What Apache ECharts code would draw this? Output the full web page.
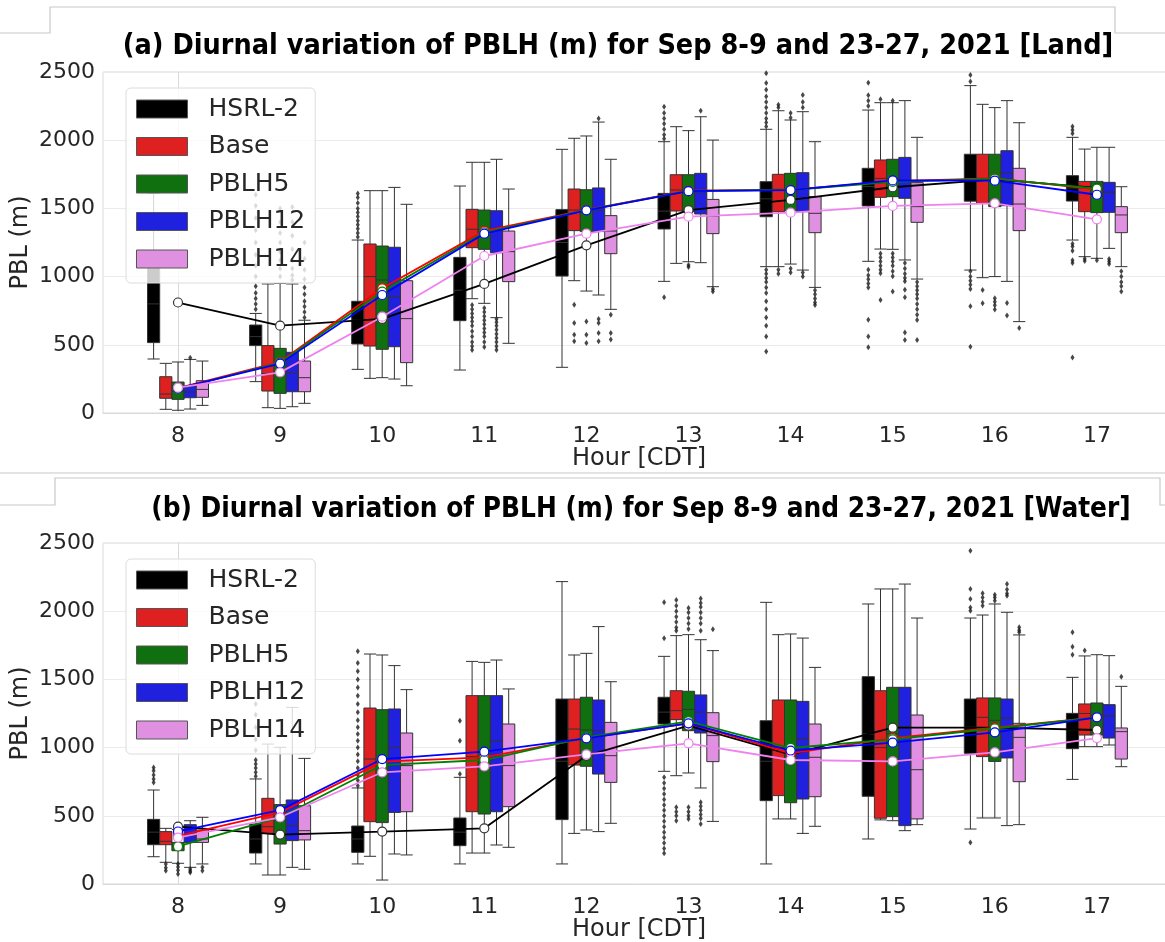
<!DOCTYPE html>
<html><head><meta charset="utf-8">
<script src="https://cdn.jsdelivr.net/npm/echarts@6/dist/echarts.min.js"></script>
<style>html,body{margin:0;padding:0;background:#fff}#c{width:1165px;height:942px}</style>
</head><body><div id="c"></div>
<script>
const hours = ['8','9','10','11','12','13','14','15','16','17'];
const models = ['HSRL-2','Base','PBLH5','PBLH12','PBLH14'];
const yTicks = [0, 500, 1000, 1500, 2000, 2500];
const titleLand = '(a) Diurnal variation of PBLH (m) for Sep 8-9 and 23-27, 2021 [Land]';
const titleWater = '(b) Diurnal variation of PBLH (m) for Sep 8-9 and 23-27, 2021 [Water]';

// ---- Land: boxes [min, Q1, median, Q3, max] per hour ----
const landBoxHSRL2 = [[396,516,800,1061,1610],[230,494,560,645,730],[320,506,680,819,1268],[315,677,900,1141,1664],[335,1004,1250,1491,1933],[965,1349,1480,1610,1989],[1073,1439,1570,1696,2080],[1112,1518,1660,1794,2221],[1048,1553,1720,1897,2400],[1268,1554,1650,1740,2021]];
const landBoxBase   = [[27,108,139,266,364],[39,161,290,494,946],[254,491,1000,1239,1630],[838,1212,1347,1493,1838],[970,1337,1488,1642,2014],[1097,1481,1635,1747,2099],[1073,1476,1640,1750,2216],[1202,1581,1720,1855,2275],[992,1537,1720,1897,2263],[1146,1476,1650,1698,1935]];
const landBoxPBLH5  = [[20,100,160,227,374],[34,144,291,474,950],[259,467,975,1224,1630],[804,1200,1345,1488,1838],[894,1330,1488,1637,2031],[1109,1476,1630,1747,2070],[1092,1483,1640,1757,2148],[1200,1586,1720,1860,2275],[1000,1513,1720,1897,2239],[1134,1469,1640,1698,1948]];
const landBoxPBLH12 = [[29,112,154,198,393],[46,156,290,445,946],[249,486,848,1215,1654],[699,1175,1342,1483,1860],[865,1330,1488,1650,2133],[1102,1459,1620,1757,2172],[1048,1476,1640,1762,2209],[1122,1574,1700,1874,2290],[965,1520,1757,1923,2290],[1207,1471,1618,1691,1948]];
const landBoxPBLH14 = [[56,115,173,237,381],[71,156,259,381,680],[200,369,692,970,1530],[511,963,1183,1334,1642],[760,1168,1334,1447,1860],[926,1315,1444,1566,2001],[921,1322,1464,1586,1989],[982,1398,1513,1689,2021],[670,1337,1532,1794,2128],[1073,1322,1452,1513,1659]];

// ---- Land: means per hour ----
const landMeanHSRL2 = [810, 640, 690, 946, 1229, 1488, 1562, 1655, 1713, 1650];
const landMeanBase   = [182, 375, 914, 1335, 1490, 1630, 1636, 1700, 1720, 1640];
const landMeanPBLH5  = [176, 370, 890, 1325, 1488, 1628, 1635, 1695, 1718, 1645];
const landMeanPBLH12 = [180, 362, 865, 1315, 1486, 1626, 1634, 1705, 1703, 1600];
const landMeanPBLH14 = [186, 298, 706, 1151, 1315, 1439, 1469, 1518, 1537, 1420];

// ---- Land: outliers [hourIndex, value] ----
const landOutHSRL2 = [[1,760],[1,800],[1,840],[1,880],[1,930],[1,1000],[1,1080],[1,1160],[1,1250],[1,1340],[1,1430],[1,1520],[1,1600],
 [2,1290],[2,1320],[2,1350],[2,1380],[2,1410],[2,1440],[2,1470],[2,1500],[2,1540],[2,1580],[2,1610],
 [5,2010],[5,2040],[5,2080],[5,2120],[5,2160],[5,2200],[5,2246],[5,848],
 [6,2100],[6,2130],[6,2160],[6,2200],[6,2240],[6,2280],[6,2320],[6,2370],[6,2420],[6,2490],
 [6,1050],[6,1020],[6,990],[6,960],[6,920],[6,880],[6,820],[6,760],[6,700],[6,640],[6,560],[6,450],
 [7,2250],[7,2290],[7,2330],[7,2422],[7,1050],[7,1010],[7,980],[7,950],[7,920],[7,684],[7,560],[7,482],
 [8,2430],[8,2478],[8,1040],[8,1000],[8,970],[8,940],[8,910],[8,782],[8,486],
 [9,2050],[9,2075],[9,2100],[9,1240],[9,1220],[9,1190],[9,1120],[9,1100],[9,406]];
const landOutBase = [[3,792],[3,760],[3,730],[3,700],[3,670],[3,640],[3,600],[3,560],[3,520],[3,490],[3,462],
 [4,794],[4,660],[4,574],[4,526],
 [6,2240],[6,2260],[6,1050],[6,1020],
 [7,2300],[7,1170],[7,1140],[7,1110],[7,1080],[7,1050],[7,1024],[7,828],
 [8,902],[8,804],
 [9,1130],[9,1115]];
const landOutPBLH5 = [[1,1000],[1,1060],[1,1120],[1,1180],[1,1250],[1,1320],[1,1400],[1,1500],
 [3,770],[3,740],[3,710],[3,680],[3,650],[3,620],[3,590],[3,560],[3,520],[3,484],
 [4,670],[4,574],[4,513],
 [5,1085],[5,1070],
 [6,2165],[6,2200],[6,1060],[6,1030],
 [7,2290],[7,1170],[7,1140],[7,1110],[7,1080],[7,1040],[7,1002],[7,890],
 [8,841],[8,815],[8,790],[8,758],
 [9,1120]];
const landOutPBLH12 = [[0,405],
 [1,975],[1,1010],[1,1060],[1,1120],[1,1200],[1,1300],[1,1400],[1,1510],
 [3,690],[3,665],[3,640],[3,610],[3,580],[3,550],[3,520],[3,490],[3,462],
 [4,2160],[4,689],[4,660],[4,587],[4,526],
 [5,2216],
 [6,2331],[6,2280],[6,2240],[6,1030],[6,1000],
 [7,1100],[7,1060],[7,1020],[7,990],[7,965],[7,904],[7,848],[7,591],[7,535],
 [8,806],[8,714],
 [9,1129],[9,1110],[9,1092]];
const landOutPBLH14 = [[1,700],[1,740],[1,780],[1,820],[1,870],[1,920],[1,980],[1,1050],[1,1130],[1,1250],
 [4,721],[4,587],[4,538],
 [5,910],[5,890],
 [6,900],[6,870],[6,840],[6,810],[6,792],
 [7,960],[7,930],[7,900],[7,870],[7,840],[7,800],[7,760],[7,720],[7,682],[7,535],
 [8,623],
 [9,1040],[9,1000],[9,960],[9,930],[9,890]];

// ---- Water: boxes [min, Q1, median, Q3, max] ----
const waterBoxHSRL2 = [[200,288,380,474,689],[147,227,330,440,770],[147,232,330,425,704],[147,281,380,484,782],[147,472,900,1356,2217],[826,1173,1260,1369,1669],[147,611,900,1197,2065],[330,643,1100,1520,2053],[403,958,1150,1356,1950],[767,992,1130,1251,1515]];
const waterBoxBase   = [[159,288,313,384,408],[66,371,420,628,1026],[203,457,916,1290,1686],[227,530,934,1381,1632],[371,872,1136,1356,1679],[794,1205,1271,1417,1821],[477,648,1000,1349,1828],[470,482,1000,1417,2163],[484,934,1222,1364,1972],[1007,1092,1250,1320,1672]];
const waterBoxPBLH5  = [[152,244,280,305,400],[66,293,469,582,1002],[29,450,885,1278,1679],[227,513,920,1381,1625],[396,863,1129,1369,1691],[814,1124,1280,1413,1828],[477,596,980,1349,1833],[464,494,1100,1442,2163],[484,899,1200,1364,2053],[1007,1092,1240,1327,1681]];
const waterBoxPBLH12 = [[122,305,354,435,464],[122,318,428,616,1295],[220,525,1002,1283,1601],[286,530,1046,1381,1642],[384,806,1124,1349,1887],[704,1107,1259,1386,1791],[371,623,1063,1339,1803],[391,428,1153,1442,2199],[428,924,1215,1356,1992],[1019,1070,1232,1315,1674]];
const waterBoxPBLH14 = [[147,305,330,396,489],[108,323,391,574,921],[213,530,868,1107,1425],[269,567,868,1173,1430],[445,745,941,1185,1483],[459,897,1088,1256,1711],[423,640,929,1173,1588],[435,477,838,1239,1950],[435,750,1075,1178,1826],[860,916,1117,1144,1449]];

// ---- Water: means ----
const waterMeanHSRL2 = [420, 362, 384, 408, 940, 1161, 948, 1146, 1146, 1129];
const waterMeanBase   = [352, 525, 897, 929, 1070, 1178, 958, 1070, 1146, 1222];
const waterMeanPBLH5  = [275, 489, 872, 909, 1075, 1193, 997, 1060, 1140, 1222];
const waterMeanPBLH12 = [385, 542, 916, 970, 1068, 1178, 978, 1036, 1112, 1222];
const waterMeanPBLH14 = [340, 489, 819, 863, 950, 1031, 909, 899, 965, 1070];

// ---- Water: outliers ----
const waterOutHSRL2 = [[0,745],[0,770],[0,800],[0,830],[0,855],
 [1,790],[1,820],[1,850],[1,880],[1,910],[1,980],[1,1060],[1,1150],[1,1240],[1,1320],
 [2,720],[2,760],[2,800],[2,850],[2,900],[2,950],[2,1000],[2,1050],[2,1100],[2,1150],[2,1200],[2,1260],[2,1320],[2,1380],[2,1440],[2,1500],[2,1560],[2,1620],[2,1706],
 [3,806],[3,1051],[3,1197],
 [5,2065],[5,1801],[5,782],[5,740],[5,700],[5,660],[5,620],[5,580],[5,540],[5,500],[5,460],[5,420],[5,380],[5,340],[5,300],[5,260],[5,225],
 [8,2444],[8,2163],[8,2089],[8,2028],[8,2004],[8,305],
 [9,1845],[9,1740],[9,1680]];
const waterOutBase = [[0,147],[0,120],[0,98],
 [5,2082],[5,2040],[5,2000],[5,1960],[5,1920],[5,1880],[5,1857],[5,562],[5,530],[5,500],[5,464],
 [8,2131],[8,2100],[8,2070],[8,2040],
 [9,1711]];
const waterOutPBLH5 = [[0,147],[0,125],[0,100],[0,73],
 [5,2023],[5,1990],[5,1950],[5,1910],[5,1870],[5,562],[5,530],[5,500],[5,477],
 [8,2121],[8,2100],[8,2077]];
const waterOutPBLH12 = [[0,110],[0,95],[0,85],
 [5,2094],[5,2060],[5,2030],[5,1990],[5,1950],[5,1910],[5,1857],[5,599],[5,570],[5,540],[5,510],[5,480],[5,440],
 [8,2199],[8,2160],[8,2130],[8,2114]];
const waterOutPBLH14 = [[0,122],[0,98],
 [5,1867],
 [8,1882],[8,1860],[8,1845],
 [9,1520]];

const panels = [
  {boxes:[landBoxHSRL2,landBoxBase,landBoxPBLH5,landBoxPBLH12,landBoxPBLH14],
   means:[landMeanHSRL2,landMeanBase,landMeanPBLH5,landMeanPBLH12,landMeanPBLH14],
   outs:[landOutHSRL2,landOutBase,landOutPBLH5,landOutPBLH12,landOutPBLH14]},
  {boxes:[waterBoxHSRL2,waterBoxBase,waterBoxPBLH5,waterBoxPBLH12,waterBoxPBLH14],
   means:[waterMeanHSRL2,waterMeanBase,waterMeanPBLH5,waterMeanPBLH12,waterMeanPBLH14],
   outs:[waterOutHSRL2,waterOutBase,waterOutPBLH5,waterOutPBLH12,waterOutPBLH14]}
];

// ---- styling / layout ----
const FILL = ['#000000','#df2020','#107010','#2020df','#e090e0'];
const LINE = ['#000000','#ff0000','#008000','#0000ff','#ee82ee'];
const EDGE = '#333333';
const TXT = '#262626';
const FONT = 'DejaVu Sans';
const TITLE_FONT = 'DejaVu Sans Condensed, Liberation Sans Narrow, sans-serif';
const GRID_LEFT = 103, GRID_W = 1072, GRID_H = 341;
const GRID_TOPS = [72, 543];
const PX_PER_UNIT = 102.1, FIRST_CENTER = 178, BOX_PX = 12.2;
const X_MIN = -(FIRST_CENTER - GRID_LEFT) / PX_PER_UNIT;
const X_MAX = X_MIN + GRID_W / PX_PER_UNIT;
const offsetOf = k => (k - 2) * BOX_PX / PX_PER_UNIT;

const grids = [], xAxes = [], yAxes = [], series = [], legends = [];
panels.forEach((p, g) => {
  grids.push({left: GRID_LEFT, top: GRID_TOPS[g], width: GRID_W, height: GRID_H, show: true,
    outerBoundsMode: 'none', containLabel: false,
    borderColor: '#d9d9d9', borderWidth: 1, backgroundColor: 'transparent'});
  for (let k = 0; k < 5; k++) {
    const base = {type: 'value', gridIndex: g, min: X_MIN, max: X_MAX, splitLine: {show: false}};
    if (k === 0) {
      Object.assign(base, {
        axisLine: {show: true, lineStyle: {color: '#d9d9d9'}},
        axisTick: {show: false},
        axisLabel: {customValues: hours.map((h, i) => i), formatter: v => hours[Math.round(v)],
          fontSize: 22, color: TXT, margin: 12, fontFamily: FONT},
        name: 'Hour [CDT]', nameLocation: 'middle', nameGap: 34, nameMoveOverlap: false,
        nameTextStyle: {fontSize: 24, color: TXT, fontFamily: FONT}
      });
    } else {
      base.show = false;
    }
    xAxes.push(base);
  }
  yAxes.push({type: 'value', gridIndex: g, min: yTicks[0], max: yTicks[yTicks.length - 1], interval: 500,
    axisLine: {show: true, lineStyle: {color: '#d9d9d9'}}, axisTick: {show: false},
    splitLine: {show: true, lineStyle: {color: '#ebebeb', width: 1}},
    axisLabel: {fontSize: 22, color: TXT, margin: 8, fontFamily: FONT, formatter: v => String(v)},
    name: 'PBL (m)', nameLocation: 'middle', nameRotate: 90, nameGap: 70, nameMoveOverlap: false,
    nameTextStyle: {fontSize: 24, color: TXT, fontFamily: FONT}});

  models.forEach((m, k) => {
    const off = offsetOf(k);
    series.push({type: 'boxplot', name: m, xAxisIndex: g * 5 + k, yAxisIndex: g,
      boxWidth: [BOX_PX, BOX_PX], silent: true, z: 2,
      itemStyle: {color: FILL[k], borderColor: EDGE, borderWidth: 1},
      emphasis: {disabled: true},
      data: p.boxes[k].map((b, i) => [i + off].concat(b))});
    series.push({type: 'scatter', name: m, xAxisIndex: g * 5 + k, yAxisIndex: g, silent: true, z: 3,
      symbol: 'diamond', symbolSize: [4, 6], itemStyle: {color: '#1a1a1a'},
      data: p.outs[k].map(([i, v]) => [i + off, v])});
  });
  models.forEach((m, k) => {
    series.push({type: 'line', name: m, xAxisIndex: g * 5, yAxisIndex: g, silent: true, z: 5,
      symbol: 'circle', symbolSize: 9, showAllSymbol: true,
      lineStyle: {color: LINE[k], width: 1.8},
      itemStyle: {color: '#ffffff', borderColor: LINE[k] === '#000000' ? '#333' : LINE[k], borderWidth: 1.2},
      data: p.means[k].map((v, i) => [i, v])});
  });
  legends.push({orient: 'vertical', left: 126, top: GRID_TOPS[g] + 16, itemWidth: 51, itemHeight: 18,
    itemGap: 9.5, padding: [7, 10, 10, 10], selectedMode: false, z: 10,
    backgroundColor: 'rgba(255,255,255,0.8)', borderColor: '#dcdcdc', borderWidth: 1, borderRadius: 5,
    textStyle: {fontSize: 25, color: TXT, lineHeight: 28, fontFamily: FONT, padding: [0, 0, 0, 16]},
    data: models.map((m, k) => ({name: m, icon: 'rect',
      itemStyle: {color: FILL[k], borderColor: '#555', borderWidth: 1}}))});
});

const lineStyle = {stroke: '#c8c8c8', lineWidth: 1.2, fill: null};
const option = {
  animation: false,
  backgroundColor: '#ffffff',
  title: [
    {text: titleLand, left: 613, top: 27, textAlign: 'center',
     textStyle: {fontFamily: TITLE_FONT, fontWeight: 'bold', fontSize: 28.5, color: '#000'}},
    {text: titleWater, left: 636, top: 491, textAlign: 'center',
     textStyle: {fontFamily: TITLE_FONT, fontWeight: 'bold', fontSize: 27.7, color: '#000'}}
  ],
  graphic: [
    {type: 'polyline', silent: true, shape: {points: [[0,33],[50,33],[50,7],[1115,7],[1115,33],[1165,33]]}, style: lineStyle},
    {type: 'line', silent: true, shape: {x1: 0, y1: 473, x2: 1165, y2: 473}, style: lineStyle},
    {type: 'polyline', silent: true, shape: {points: [[0,505],[55,505],[55,478],[1160,478],[1160,505],[1165,505]]}, style: lineStyle}
  ],
  legend: legends,
  grid: grids,
  xAxis: xAxes,
  yAxis: yAxes,
  series: series
};
const chart = echarts.init(document.getElementById('c'), null, {renderer: 'canvas'});
chart.setOption(option);
</script></body></html>
